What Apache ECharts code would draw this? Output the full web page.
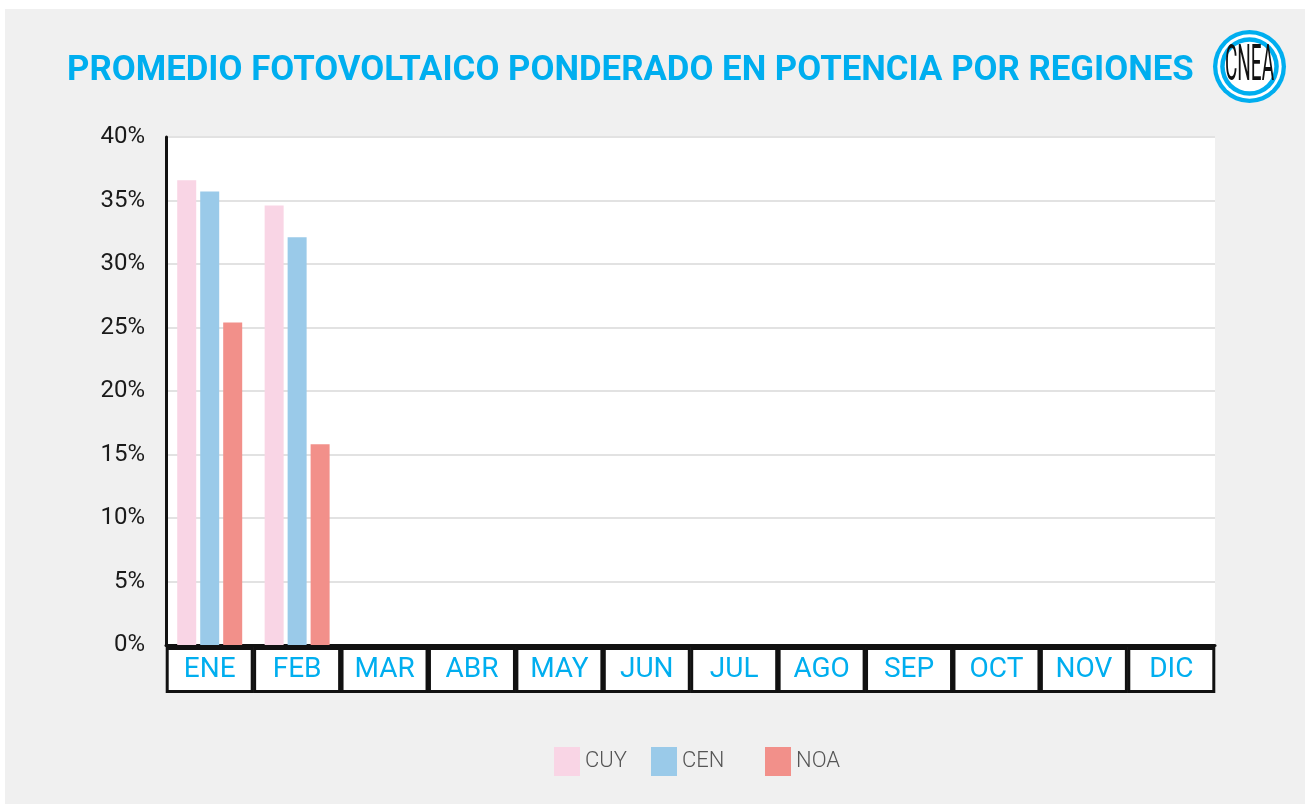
<!DOCTYPE html>
<html>
<head>
<meta charset="utf-8">
<style>
  html, body { margin: 0; padding: 0; background: #fff; }
  #chart { position: absolute; left: 5px; top: 9px; width: 1300px; height: 795px; }
</style>
<script src="https://cdn.jsdelivr.net/npm/echarts@6/dist/echarts.min.js"></script>
</head>
<body>
<div id="chart"></div>
<script>
  // datos (porcentaje)
  var meses = ['ENE', 'FEB', 'MAR', 'ABR', 'MAY', 'JUN', 'JUL', 'AGO', 'SEP', 'OCT', 'NOV', 'DIC']
  var cuy = [36.6, 34.6, null, null, null, null, null, null, null, null, null, null]
  var cen = [35.7, 32.1, null, null, null, null, null, null, null, null, null, null]
  var noa = [25.4, 15.8, null, null, null, null, null, null, null, null, null, null]
  var titulo = 'PROMEDIO FOTOVOLTAICO PONDERADO EN POTENCIA POR REGIONES'

  var azul = '#00aeef'
  var chart = echarts.init(document.getElementById('chart'))

  function leyenda(name, left) {
    return {
      data: [name],
      left: left,
      top: 738,
      padding: 0,
      itemWidth: 26,
      itemHeight: 29,
      icon: 'rect',
      textStyle: { fontFamily: 'Roboto', fontWeight: 300, fontSize: 22, color: '#555' }
    }
  }

  chart.setOption({
    backgroundColor: '#f0f0f0',
    animation: false,
    grid: {
      left: 161,
      top: 128,
      width: 1049,
      height: 508,
      show: true,
      backgroundColor: '#fff',
      borderWidth: 0
    },
    legend: [leyenda('CUY', 549), leyenda('CEN', 646), leyenda('NOA', 760)],
    xAxis: {
      type: 'category',
      data: meses,
      axisLine: { lineStyle: { color: '#111', width: 3 } },
      axisTick: { show: false },
      axisLabel: {
        interval: 0,
        margin: 5,
        width: 82,
        height: 40,
        lineHeight: 40,
        align: 'center',
        verticalAlign: 'top',
        backgroundColor: '#fff',
        borderColor: '#111',
        borderWidth: 3,
        color: azul,
        fontFamily: 'Roboto',
        fontSize: 28
      }
    },
    yAxis: {
      type: 'value',
      min: 0,
      max: 40,
      interval: 5,
      axisLine: { show: true, lineStyle: { color: '#111', width: 3 } },
      axisTick: { show: false },
      splitLine: { lineStyle: { color: '#e2e2e2', width: 2 } },
      axisLabel: {
        formatter: '{value}%',
        margin: 21,
        padding: [8, 0, 0, 0],
        color: '#1a1a1a',
        fontFamily: 'Roboto',
        fontSize: 24
      }
    },
    series: [
      { name: 'CUY', type: 'bar', data: cuy, barWidth: 19, barGap: '21%', itemStyle: { color: '#f9d5e5' } },
      { name: 'CEN', type: 'bar', data: cen, barWidth: 19, barGap: '21%', itemStyle: { color: '#9acae9' } },
      { name: 'NOA', type: 'bar', data: noa, barWidth: 19, barGap: '21%', itemStyle: { color: '#f2908a' } }
    ],
    graphic: [
      {
        type: 'text',
        left: 62,
        top: 45,
        style: { text: titulo, fill: azul, font: 'bold 34.8px Roboto' }
      },
      // logo CNEA
      { type: 'circle', shape: { cx: 1244.5, cy: 57.5, r: 36.5 }, style: { fill: azul } },
      { type: 'circle', shape: { cx: 1244.5, cy: 57.5, r: 32.2 }, style: { fill: '#fff' } },
      { type: 'circle', shape: { cx: 1244.5, cy: 57.5, r: 29.3 }, style: { fill: azul } },
      { type: 'circle', shape: { cx: 1244.5, cy: 57.5, r: 24.8 }, style: { fill: '#fff' } },
      {
        type: 'text',
        x: 1244.5,
        y: 58,
        scaleX: 0.38,
        style: { text: 'CNEA', fill: '#111', font: '400 50px Roboto', align: 'center', verticalAlign: 'middle' }
      }
    ]
  })
</script>
</body>
</html>
